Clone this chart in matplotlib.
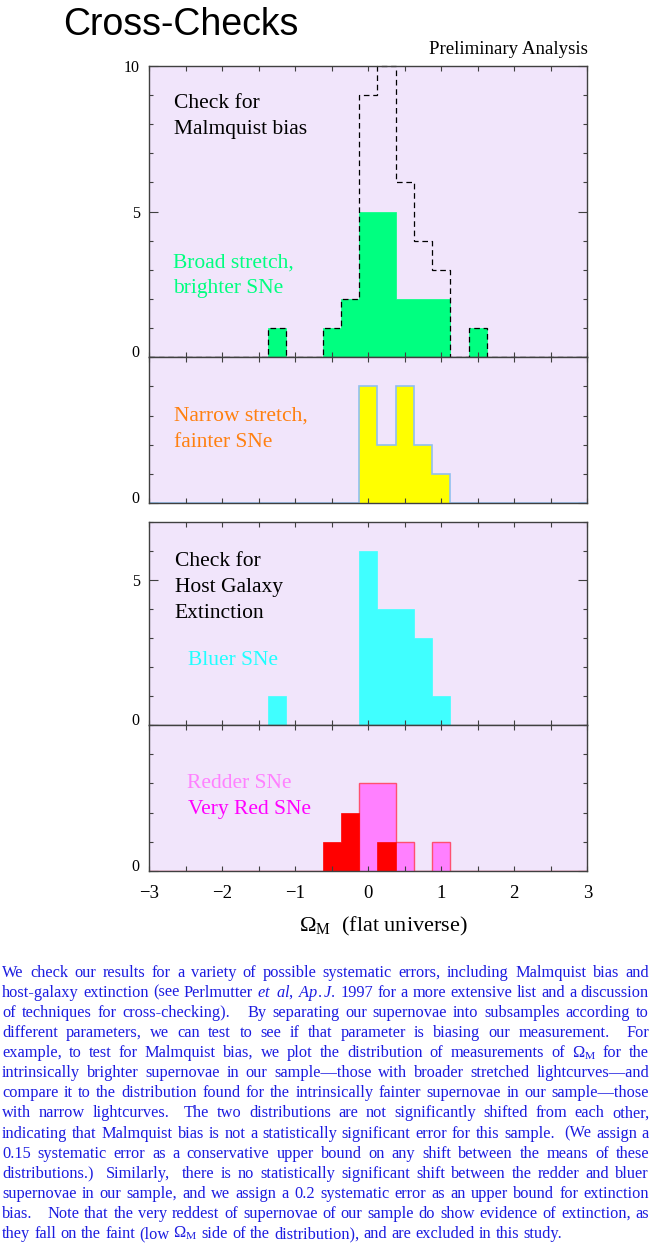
import numpy as np
import matplotlib
matplotlib.use("Agg")
import matplotlib.pyplot as plt
from matplotlib.ticker import MultipleLocator, FixedLocator

plt.rcParams['font.family'] = ['Liberation Serif', 'DejaVu Serif']
plt.rcParams['mathtext.fontset'] = 'custom'
plt.rcParams['mathtext.rm'] = 'Liberation Serif'
plt.rcParams['mathtext.it'] = 'Liberation Serif:italic'

## data: counts per 0.25-wide bin of Omega_M ##################################
centers  = [-1.5, -1.25, -1.0, -0.75, -0.5, -0.25, 0.0, 0.25, 0.5, 0.75, 1.0, 1.25, 1.5]
all_sne  = [0, 1, 0, 0, 1, 2, 9, 10, 6, 4, 3, 0, 1]
broad    = [0, 1, 0, 0, 1, 2, 5, 5, 2, 2, 2, 0, 1]
narrow   = [0, 0, 0, 0, 0, 0, 4, 2, 4, 2, 1, 0, 0]
bluer    = [0, 1, 0, 0, 0, 0, 6, 4, 4, 3, 1, 0, 0]
redder   = [0, 0, 0, 0, 0, 0, 3, 3, 1, 0, 1, 0, 0]
very_red = [0, 0, 0, 0, 1, 2, 0, 1, 0, 0, 0, 0, 0]

body_lines = [
    "We check our results for a variety of possible systematic errors, including Malmquist bias and",
    "host-galaxy extinction (see Perlmutter $\\mathit{et}$ $\\mathit{al}$, $\\mathit{Ap.J.}$ 1997 for a more extensive list and a discussion",
    "of techniques for cross-checking).   By separating our supernovae into subsamples according to",
    "different parameters, we can test to see if that parameter is biasing our measurement.  For",
    "example, to test for Malmquist bias, we plot the distribution of measurements of $\\Omega_\\mathrm{M}$ for the",
    "intrinsically brighter supernovae in our sample\u2014those with broader stretched lightcurves\u2014and",
    "compare it to the distribution found for the intrinsically fainter supernovae in our sample\u2014those",
    "with narrow lightcurves.  The two distributions are not significantly shifted from each other,",
    "indicating that Malmquist bias is not a statistically significant error for this sample.  (We assign a",
    "0.15 systematic error as a conservative upper bound on any shift between the means of these",
    "distributions.)  Similarly,  there is no statistically significant shift between the redder and bluer",
    "supernovae in our sample, and we assign a 0.2 systematic error as an upper bound for extinction",
    "bias.   Note that the very reddest of supernovae of our sample do show evidence of extinction, as",
    "they fall on the faint (low $\\Omega_\\mathrm{M}$ side of the distribution), and are excluded in this study.",
]

W, H = 651, 1245
bg = '#F1E5FB'
spine_c = '#404040'

fig = plt.figure(figsize=(W / 100, H / 100), dpi=100)


def px_axes(left, top, right, bottom):
	return fig.add_axes([left / W, 1 - bottom / H, (right - left) / W, (bottom - top) / H])


# bin edges, stretched out to the axis range so outlines run along zero
inner = list(np.array(centers) - 0.125) + [centers[-1] + 0.125]
edges = np.array([-3.0] + inner + [3.0])


def pad(counts):
	return np.concatenate([[0], counts, [0]])


def setup(ax, ymax, majors, xlabels=False):
	ax.set_facecolor(bg)
	ax.set_xlim(-3, 3)
	ax.set_ylim(0, ymax)
	ax.xaxis.set_major_locator(MultipleLocator(1))
	ax.xaxis.set_minor_locator(MultipleLocator(0.5))
	ax.yaxis.set_major_locator(FixedLocator(majors))
	ax.yaxis.set_minor_locator(MultipleLocator(1))
	ax.tick_params(which='both', direction='in', top=True, right=True, color=spine_c, width=0.8)
	ax.tick_params(axis='y', which='major', length=6.5, pad=7, labelsize=11.5)
	ax.tick_params(axis='y', which='minor', length=3)
	ax.tick_params(axis='x', which='both', length=3.5, labelsize=13.5, pad=10)
	if not xlabels:
		ax.tick_params(axis='x', labelbottom=False)
	for sp in ax.spines.values():
		sp.set_color(spine_c)
		sp.set_linewidth(1.0)
	ax.get_yticklabels()[0].set_verticalalignment('baseline')


ax1 = px_axes(149.3, 66, 587.3, 357)
ax2 = px_axes(149.3, 357, 587.3, 503.3)
ax3 = px_axes(149.3, 521.7, 587.3, 725)
ax4 = px_axes(149.3, 725, 587.3, 871)

setup(ax1, 10, [0, 5, 10])
setup(ax2, 5, [0])
setup(ax3, 7, [0, 5])
setup(ax4, 5, [0], xlabels=True)

## panel 1: Malmquist, broad stretch #########################################
ax1.stairs(pad(broad), edges, fill=True, facecolor='#00FF80', edgecolor='#00FF80', lw=0.5)
ax1.stairs(pad(all_sne), edges, color='k', lw=0.9, linestyle=(0, (4.5, 3)), clip_on=False)
ax1.text(-2.66, 8.55, "Check for", fontsize=15.5, va='baseline')
ax1.text(-2.66, 7.66, "Malmquist bias", fontsize=15.5, va='baseline')
ax1.text(-2.67, 3.06, "Broad stretch,", fontsize=15.5, va='baseline', color='#00FF80')
ax1.text(-2.67, 2.19, "brighter SNe", fontsize=15.5, va='baseline', color='#00FF80')

## panel 2: narrow stretch ####################################################
ax2.stairs(pad(narrow), edges, fill=True, facecolor='#FFFF00', edgecolor='#90C0F0', lw=1.2)
ax2.text(-2.66, 2.83, "Narrow stretch,", fontsize=15.5, va='baseline', color='#FF8010')
ax2.text(-2.66, 1.94, "fainter SNe", fontsize=15.5, va='baseline', color='#FF8010')

## panel 3: extinction, bluer #################################################
ax3.stairs(pad(bluer), edges, fill=True, facecolor='#40FFFF', edgecolor='#40FFFF', lw=0.5)
ax3.text(-2.65, 5.47, "Check for", fontsize=15.5, va='baseline')
ax3.text(-2.65, 4.59, "Host Galaxy", fontsize=15.5, va='baseline')
ax3.text(-2.65, 3.69, "Extinction", fontsize=15.5, va='baseline')
ax3.text(-2.47, 2.07, "Bluer SNe", fontsize=15.5, va='baseline', color='#20FFFF')

## panel 4: redder / very red #################################################
ax4.stairs(pad(redder), edges, fill=True, facecolor='#FF80FF', edgecolor='#FF5070', lw=1.0)
ax4.stairs(pad(very_red), edges, fill=True, facecolor='#FF0000', edgecolor='#FF0000', lw=0.5)
ax4.text(-2.48, 2.84, "Redder SNe", fontsize=15.5, va='baseline', color='#FF80FF')
ax4.text(-2.47, 1.95, "Very Red SNe", fontsize=15.5, va='baseline', color='#FF00FF')

fig.text(383.8 / W, 1 - 931.7 / H, r"$\Omega_\mathrm{M}$  (flat universe)", fontsize=16,
	ha='center', va='baseline')

## titles ####################################################################
fig.text(62.7 / W, 1 - 35 / H, "Cross-Checks", family='Liberation Sans', fontsize=27, va='baseline')
fig.text(588.3 / W, 1 - 54 / H, "Preliminary Analysis", fontsize=13.6, ha='right', va='baseline')

## justified paragraph ########################################################
renderer = fig.canvas.get_renderer()
text_c = '#1c1ce0'
x_left, x_right = 2.0, 649.0
y0, dy = 976.7, 20.1
last_width = 562.0   # natural width of the closing line in the reference


def split_line(line):
	words, gaps = [], []
	for tok in line.split(' '):
		if tok:
			words.append(tok)
			gaps.append(1)
		else:
			gaps[-1] += 1
	return words, gaps[:-1]


# pick the font size from the width of the unjustified last line
probe = fig.text(0, 0, "a b", fontsize=10)
probe_ab = fig.text(0, 0, "ab", fontsize=10)
space10 = probe.get_window_extent(renderer).width - probe_ab.get_window_extent(renderer).width
probe.remove()
probe_ab.remove()
lw_, lg_ = split_line(body_lines[-1])
tmp = [fig.text(0, 0, w, fontsize=10) for w in lw_]
nat10 = sum(t.get_window_extent(renderer).width for t in tmp) + sum(lg_) * space10
for t in tmp:
	t.remove()
body_size = 10 * last_width / nat10
space = space10 * body_size / 10

for i, line in enumerate(body_lines):
	words, gaps = split_line(line)
	y = 1 - (y0 + i * dy) / H
	objs = [fig.text(0, y, w, fontsize=body_size, color=text_c, va='baseline') for w in words]
	widths = [t.get_window_extent(renderer).width for t in objs]
	if i < len(body_lines) - 1:
		unit = (x_right - x_left - sum(widths)) / sum(gaps)
	else:
		unit = space
	x = x_left
	for t, w, g in zip(objs, widths, gaps + [0]):
		t.set_x(x / W)
		x += w + g * unit

fig.savefig("out.png", dpi=100)
